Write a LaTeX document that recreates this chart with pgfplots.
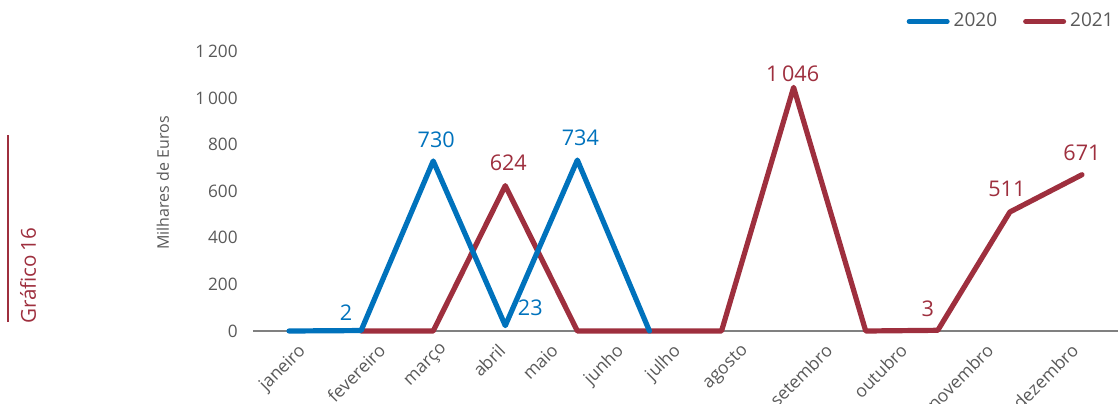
\documentclass[border=0pt]{standalone}
\usepackage{pgfplots}
\pgfplotsset{compat=1.18}
\usepackage{pgfplotstable}
\usepackage{fontspec}
\setmainfont{Open Sans}
\definecolor{c2020}{RGB}{0,114,188}
\definecolor{c2021}{RGB}{158,47,62}
\definecolor{tgrey}{RGB}{89,89,89}
\definecolor{agrey}{RGB}{128,128,128}

\pgfplotstableread{
x y
0 0
1 2
2 730
3 23
4 734
5 0
}\dataA
\pgfplotstableread{
x y
1 0
2 0
3 624
4 0
5 0
6 0
7 1046
8 0
9 3
10 511
11 671
}\dataB

% #1 colour, #2 x, #3 y, #4 label, #5 dx, #6 dy
\newcommand{\vlabel}[6]{%
\addplot[draw=none, forget plot, nodes near coords, point meta=explicit symbolic,
  every node near coord/.style={anchor=center, xshift=#5, yshift=#6, text=#1, font=\fontsize{10.8}{12}\selectfont, inner sep=0pt}]
  coordinates {(#2,#3) [#4]};}

\begin{document}
\begin{tikzpicture}
\path[use as bounding box] (-126.5pt,-36pt) rectangle (433.5pt,165.5pt);
\draw[c2021, line width=0.6pt] (-122.5pt,4.5pt) -- (-122.5pt,98pt);
\node[rotate=90, text=c2021, font=\fontsize{10.3}{12}\selectfont, anchor=center] at (-112.5pt,27.5pt) {Gráfico\,16};
\begin{axis}[
  at={(0pt,0pt)}, anchor=south west,
  scale only axis, width=432.5pt, height=139.75pt,
  xmin=-0.5, xmax=11.5, ymin=0, ymax=1200,
  clip=false,
  axis lines*=left,
  y axis line style={draw=none},
  x axis line style={draw=agrey, line width=0.75pt},
  major tick length=0pt,
  ytick={0,200,...,1200},
  /pgf/number format/.cd, 1000 sep={\,}, assume math mode=true,
  /pgfplots/.cd,
  yticklabel style={font=\fontsize{8.6}{10}\selectfont, text=tgrey, anchor=east, inner sep=0pt, xshift=-7.5pt},
  xtick={0.153,1.262,2.137,2.927,3.663,4.564,5.355,6.299,7.464,8.504,9.698,10.877},
  xticklabels={janeiro,fevereiro,março,abril,maio,junho,julho,agosto,setembro,outubro,novembro,dezembro},
  xticklabel style={font=\fontsize{8.8}{10}\selectfont, text=tgrey, inner sep=0pt, yshift=-5.5pt, xshift=-1.5pt, rotate=45, anchor=north east},
  every axis y label/.style={at={(axis description cs:0,0)}, xshift=-45pt, yshift=74pt, rotate=90, anchor=center, font=\fontsize{8}{10}\selectfont, text=tgrey},
  ylabel={Milhares de Euros},
  legend style={at={(1,1)}, anchor=east, yshift=15pt, draw=none, fill=none, font=\fontsize{9.5}{11}\selectfont, text=tgrey, legend columns=2, /tikz/every even column/.append style={column sep=11pt}, inner sep=0pt},
  legend image code/.code={\draw[#1, line width=2.5pt, line cap=round] (0pt,0pt) -- (19pt,0pt);},
  reverse legend,
]
\addplot[c2021, line width=2.6pt, line cap=round, line join=round] table[x=x,y=y] {\dataB};
\addlegendentry{2021}
\addplot[c2020, line width=2.6pt, line cap=round, line join=round] table[x=x,y=y] {\dataA};
\addlegendentry{2020}

\vlabel{c2020}{1}{2}{2}{-7.5pt}{9pt}
\vlabel{c2020}{2}{730}{730}{1.5pt}{10.5pt}
\vlabel{c2020}{3}{23}{23}{12.5pt}{8.8pt}
\vlabel{c2020}{4}{734}{734}{1.5pt}{11pt}
\vlabel{c2021}{3}{624}{624}{1.5pt}{11.3pt}
\vlabel{c2021}{7}{1046}{1\,046}{-0.5pt}{6.7pt}
\vlabel{c2021}{9}{3}{3}{-5pt}{11pt}
\vlabel{c2021}{10}{511}{511}{-1.5pt}{11.5pt}
\vlabel{c2021}{11}{671}{671}{0pt}{11pt}
\end{axis}
\end{tikzpicture}
\end{document}
